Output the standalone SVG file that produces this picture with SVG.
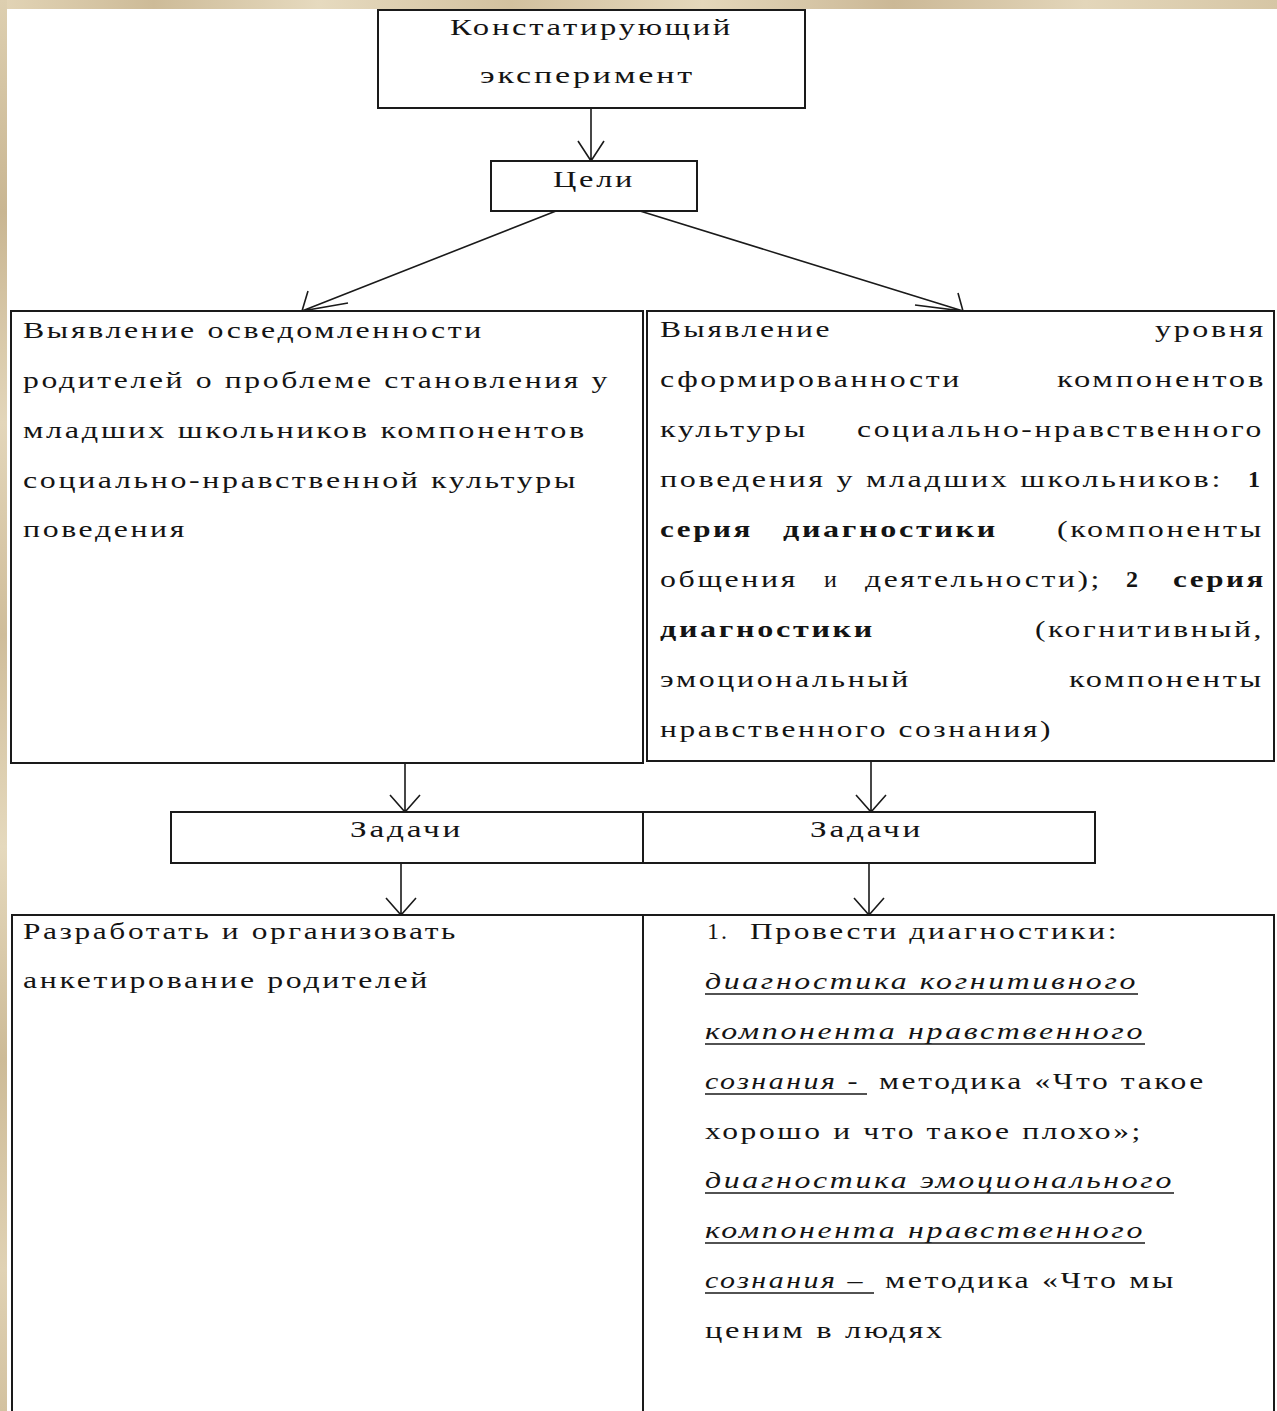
<svg xmlns="http://www.w3.org/2000/svg" width="1277" height="1411" viewBox="0 0 1277 1411">
<defs>
<linearGradient id="bgH" x1="0" y1="0" x2="1" y2="0">
<stop offset="0" stop-color="#e2d4b6"/><stop offset="0.12" stop-color="#cdbb98"/><stop offset="0.25" stop-color="#e6dabf"/><stop offset="0.4" stop-color="#d2c19f"/><stop offset="0.55" stop-color="#e4d7bb"/><stop offset="0.7" stop-color="#cbb896"/><stop offset="0.85" stop-color="#e3d6ba"/><stop offset="1" stop-color="#d6c6a5"/>
</linearGradient>
<linearGradient id="bgV" x1="0" y1="0" x2="0" y2="1">
<stop offset="0" stop-color="#ddcfb0"/><stop offset="0.15" stop-color="#c9b692"/><stop offset="0.3" stop-color="#e3d6ba"/><stop offset="0.45" stop-color="#cfbd9a"/><stop offset="0.6" stop-color="#e5d9bd"/><stop offset="0.75" stop-color="#cdbb97"/><stop offset="0.9" stop-color="#e0d2b4"/><stop offset="1" stop-color="#d3c2a0"/>
</linearGradient>
<style>
.t{font-family:"Liberation Serif","Times New Roman",serif;font-size:24px;letter-spacing:2px;fill:#141414}
.b{font-weight:bold}
.i{font-style:italic}
.box{fill:#ffffff;stroke:#1a1a1a;stroke-width:2}
.ln{fill:none;stroke:#1a1a1a;stroke-width:1.6}
.ul{stroke:#1a1a1a;stroke-width:1.5}
</style>
</defs>
<rect x="0" y="0" width="1277" height="1411" fill="#ffffff"/>
<rect x="0" y="0" width="1277" height="9" fill="url(#bgH)"/>
<rect x="0" y="0" width="7" height="1411" fill="url(#bgV)"/>

<g id="connectors">
<path class="ln" d="M591,108 V161 M578,141 L591,161 L604,141"/>
<path class="ln" d="M556,211 L302,311 M308,291 L302,311 L348,303"/>
<path class="ln" d="M640,211 L963,311 M958,293 L963,311 L915,305"/>
<path class="ln" d="M405,763 V812 M390,795 L405,812 L420,795"/>
<path class="ln" d="M871,761 V812 M856,795 L871,812 L886,795"/>
<path class="ln" d="M401,863 V915 M386,898 L401,915 L416,898"/>
<path class="ln" d="M869,863 V915 M854,898 L869,915 L884,898"/>
</g>

<g id="node-experiment">
<rect class="box" x="378" y="10" width="427" height="98"/>
<text class="t" x="450" y="35" textLength="283" lengthAdjust="spacingAndGlyphs">Констатирующий</text>
<text class="t" x="480" y="83" textLength="215" lengthAdjust="spacingAndGlyphs">эксперимент</text>
</g>

<g id="node-goals">
<rect class="box" x="491" y="161" width="206" height="50"/>
<text class="t" x="553" y="187" textLength="82" lengthAdjust="spacingAndGlyphs">Цели</text>
</g>

<g id="node-goal-parents">
<rect class="box" x="11" y="311" width="632" height="452"/>
<text class="t" x="23" y="338" textLength="461" lengthAdjust="spacingAndGlyphs">Выявление осведомленности</text>
<text class="t" x="23" y="388" textLength="587" lengthAdjust="spacingAndGlyphs">родителей о проблеме становления у</text>
<text class="t" x="23" y="438" textLength="564" lengthAdjust="spacingAndGlyphs">младших школьников компонентов</text>
<text class="t" x="23" y="488" textLength="555" lengthAdjust="spacingAndGlyphs">социально-нравственной культуры</text>
<text class="t" x="23" y="537" textLength="164" lengthAdjust="spacingAndGlyphs">поведения</text>
</g>

<g id="node-goal-pupils">
<rect class="box" x="647" y="311" width="627" height="450"/>
<text class="t" x="660" y="337" textLength="172" lengthAdjust="spacingAndGlyphs">Выявление</text>
<text class="t" x="1155" y="337" textLength="111" lengthAdjust="spacingAndGlyphs">уровня</text>
<text class="t" x="660" y="387" textLength="302" lengthAdjust="spacingAndGlyphs">сформированности</text>
<text class="t" x="1057" y="387" textLength="209" lengthAdjust="spacingAndGlyphs">компонентов</text>
<text class="t" x="660" y="437" textLength="148" lengthAdjust="spacingAndGlyphs">культуры</text>
<text class="t" x="857" y="437" textLength="407" lengthAdjust="spacingAndGlyphs">социально-нравственного</text>
<text class="t" x="660" y="487" textLength="563" lengthAdjust="spacingAndGlyphs">поведения у младших школьников:</text>
<text class="t b" x="1248" y="487">1</text>
<text class="t b" x="660" y="537" textLength="93" lengthAdjust="spacingAndGlyphs">серия</text>
<text class="t b" x="783" y="537" textLength="215" lengthAdjust="spacingAndGlyphs">диагностики</text>
<text class="t" x="1057" y="537" textLength="207" lengthAdjust="spacingAndGlyphs">(компоненты</text>
<text class="t" x="660" y="587" textLength="138" lengthAdjust="spacingAndGlyphs">общения</text>
<text class="t" x="824" y="587">и</text>
<text class="t" x="865" y="587" textLength="237" lengthAdjust="spacingAndGlyphs">деятельности);</text>
<text class="t b" x="1126" y="587">2</text>
<text class="t b" x="1173" y="587" textLength="93" lengthAdjust="spacingAndGlyphs">серия</text>
<text class="t b" x="660" y="637" textLength="215" lengthAdjust="spacingAndGlyphs">диагностики</text>
<text class="t" x="1035" y="637" textLength="229" lengthAdjust="spacingAndGlyphs">(когнитивный,</text>
<text class="t" x="660" y="687" textLength="251" lengthAdjust="spacingAndGlyphs">эмоциональный</text>
<text class="t" x="1069" y="687" textLength="195" lengthAdjust="spacingAndGlyphs">компоненты</text>
<text class="t" x="660" y="737" textLength="393" lengthAdjust="spacingAndGlyphs">нравственного сознания)</text>
</g>

<g id="node-tasks-left">
<rect class="box" x="171" y="812" width="472" height="51"/>
<text class="t" x="350" y="837" textLength="113" lengthAdjust="spacingAndGlyphs">Задачи</text>
</g>

<g id="node-tasks-right">
<rect class="box" x="643" y="812" width="452" height="51"/>
<text class="t" x="810" y="837" textLength="113" lengthAdjust="spacingAndGlyphs">Задачи</text>
</g>

<g id="node-task-parents">
<rect class="box" x="12" y="915" width="631" height="510"/>
<text class="t" x="23" y="939" textLength="435" lengthAdjust="spacingAndGlyphs">Разработать и организовать</text>
<text class="t" x="23" y="988" textLength="407" lengthAdjust="spacingAndGlyphs">анкетирование родителей</text>
</g>

<g id="node-task-pupils">
<rect class="box" x="643" y="915" width="631" height="510"/>
<text class="t" x="707" y="939">1.</text>
<text class="t" x="750" y="939" textLength="369" lengthAdjust="spacingAndGlyphs">Провести диагностики:</text>
<text class="t i" x="705" y="989" textLength="433" lengthAdjust="spacingAndGlyphs">диагностика когнитивного</text>
<text class="t i" x="705" y="1039" textLength="440" lengthAdjust="spacingAndGlyphs">компонента нравственного</text>
<text class="t i" x="705" y="1089" textLength="155" lengthAdjust="spacingAndGlyphs">сознания -</text>
<text class="t" x="879" y="1089" textLength="327" lengthAdjust="spacingAndGlyphs">методика «Что такое</text>
<text class="t" x="705" y="1139" textLength="438" lengthAdjust="spacingAndGlyphs">хорошо и что такое плохо»;</text>
<text class="t i" x="705" y="1188" textLength="469" lengthAdjust="spacingAndGlyphs">диагностика эмоционального</text>
<text class="t i" x="705" y="1238" textLength="440" lengthAdjust="spacingAndGlyphs">компонента нравственного</text>
<text class="t i" x="705" y="1288" textLength="160" lengthAdjust="spacingAndGlyphs">сознания –</text>
<text class="t" x="885" y="1288" textLength="291" lengthAdjust="spacingAndGlyphs">методика «Что мы</text>
<text class="t" x="705" y="1338" textLength="240" lengthAdjust="spacingAndGlyphs">ценим в людях</text>
<path class="ul" d="M705,994 H1138 M705,1044 H1145 M705,1094 H867 M705,1193 H1174 M705,1243 H1145 M705,1293 H874"/>
</g>
</svg>
